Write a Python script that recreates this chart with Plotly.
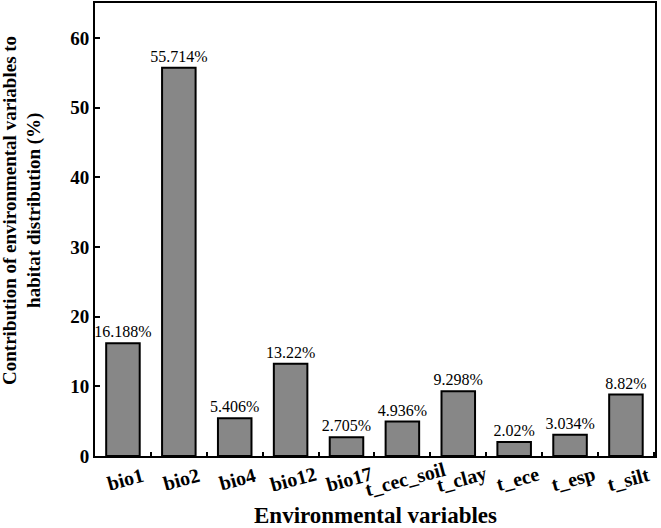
import plotly.graph_objects as go

categories = ["bio1", "bio2", "bio4", "bio12", "bio17", "t_cec_soil", "t_clay", "t_ece", "t_esp", "t_silt"]
values = [16.188, 55.714, 5.406, 13.22, 2.705, 4.936, 9.298, 2.02, 3.034, 8.82]
labels = [f"{v:g}%" for v in values]
yticks = [0, 10, 20, 30, 40, 50, 60]
y_title_lines = ["Contribution of environmental variables to", "habitat distribution (%)"]
x_title = "Environmental variables"

FONT = "Liberation Serif, Times New Roman, serif"

fig = go.Figure(go.Bar(
    x=categories, y=values, text=labels, textposition="outside",
    textfont=dict(family=FONT, size=16, color="black"),
    constraintext="none",
    marker=dict(color="#878787", line=dict(color="black", width=2)),
    cliponaxis=False,
))

fig.update_layout(
    width=661, height=528,
    margin=dict(l=95, r=6, t=3, b=72),
    paper_bgcolor="white", plot_bgcolor="white",
    bargap=0.4, showlegend=False,
    font=dict(family=FONT, color="black"),
)
fig.update_xaxes(
    automargin=False, showticklabels=False,
    showline=True, linecolor="black", linewidth=2, mirror=True,
    ticks="inside", ticklen=4, tickwidth=1.5, tickcolor="black", tickson="boundaries",
)
fig.update_yaxes(
    automargin=False,
    range=[0, 65], tickvals=yticks, showgrid=False, zeroline=False,
    showline=True, linecolor="black", linewidth=2, mirror=True,
    ticks="inside", ticklen=5, tickwidth=1.5, tickcolor="black",
    tickfont=dict(family=FONT, size=19, color="black", weight="bold"),
)

# rotated category labels, centred under each bar
for c in categories:
    fig.add_annotation(
        x=c, xref="x", y=0, yref="paper", yshift=-23, xshift=3,
        text=f"<b>{c}</b>", textangle=-15, showarrow=False,
        font=dict(family=FONT, size=20, color="black"),
        xanchor="center", yanchor="middle",
    )

fig.add_annotation(
    x=0.5, xref="paper", y=0, yref="paper", yshift=-59,
    text=f"<b>{x_title}</b>", showarrow=False,
    font=dict(family=FONT, size=23, color="black"),
    xanchor="center", yanchor="middle",
)

for i, line in enumerate(y_title_lines):
    fig.add_annotation(
        x=0, xref="paper", y=0.541, yref="paper", xshift=[-85, -61][i],
        text=f"<b>{line}</b>", textangle=-90, showarrow=False,
        font=dict(family=FONT, size=19, color="black"),
        xanchor="center", yanchor="middle",
    )

fig.write_html("out.html")
